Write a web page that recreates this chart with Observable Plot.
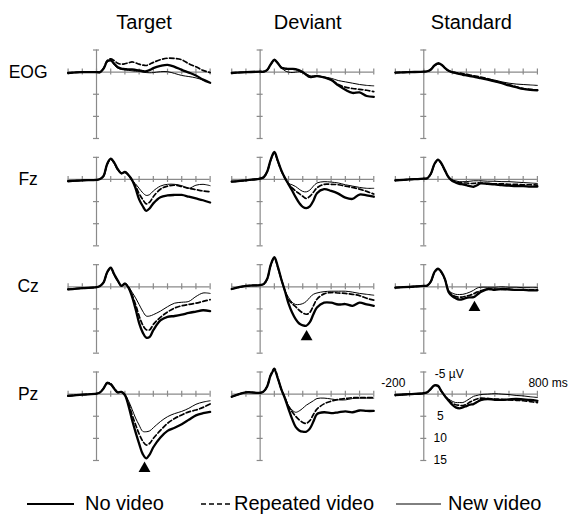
<!DOCTYPE html>
<html><head><meta charset="utf-8">
<script src="https://cdn.jsdelivr.net/npm/d3@7"></script>
<script src="https://cdn.jsdelivr.net/npm/@observablehq/plot@0.6"></script>
<style>
body{margin:0;background:#fff;font-family:"Liberation Sans",Arial,sans-serif;}
#legend{position:relative;width:568px;height:46px;font-size:20px;color:#000;}
#legend .item{position:absolute;top:14px;display:flex;align-items:center;white-space:nowrap;}
#legend svg{display:block;}
</style></head><body>
<div id="chart"></div>
<div id="legend"></div>
<script>
const conditions = ["Target", "Deviant", "Standard"];
const electrodes = ["EOG", "Fz", "Cz", "Pz"];
const seriesNames = ["No video", "Repeated video", "New video"];
const times = [-200,-100,0,25,50,75,100,125,150,175,200,225,250,275,300,325,350,375,400,450,500,550,600,650,700,750,800];
const xTicks = [-200,-100,0,100,200,300,400,500,600,700,800];
const yTicks = [-5,5,10,15];

// amplitudes in µV (negative up)
const eogTargetNo  = [0.2,0,0,0,-0.8,-2.4,-2.7,-1.9,-1.1,-0.8,-0.7,-0.6,-0.6,-0.5,-0.4,-0.25,-0.2,-0.5,-0.9,-1.4,-1.65,-1.2,-0.5,0.1,0.75,1.7,2.4];
const eogTargetRep = [0.2,0,0,0,-0.9,-2.6,-3.0,-2.6,-2.0,-1.8,-1.9,-2.1,-2.3,-2.1,-1.8,-1.6,-1.5,-1.8,-2.2,-2.8,-3.15,-3.1,-2.8,-1.9,-1.2,-0.4,0.1];
const eogTargetNew = [0.2,0,0,0,-0.8,-2.3,-2.5,-1.6,-0.9,-0.6,-0.5,-0.4,-0.3,-0.2,-0.2,0,0.1,0.15,0.1,-0.1,-0.1,0.3,0.75,1.0,1.3,1.8,2.4];
const eogDeviantNo  = [0.2,0,-0.1,-0.1,-0.5,-1.8,-2.8,-2.0,-1.0,-0.8,-0.75,-0.75,-0.7,-0.4,0,0.6,1.1,1.0,0.9,1.2,1.8,3.0,4.0,4.7,4.6,5.4,5.6];
const eogDeviantRep = [0.2,0,-0.1,-0.1,-0.5,-1.7,-2.7,-2.0,-1.0,-0.8,-0.75,-0.7,-0.6,-0.3,0.1,0.6,1.0,1.0,0.9,1.2,1.7,2.8,3.4,3.7,3.9,4.1,4.4];
const eogDeviantNew = [0.2,0,-0.1,-0.1,-0.5,-1.7,-2.7,-1.9,-1.0,-0.3,0,0.1,0,-0.1,0,0.4,0.8,0.9,0.8,1.1,1.4,1.9,2.2,2.5,2.8,3.0,3.1];
const eogStandardNo  = [0.1,0,-0.1,-0.2,-0.6,-1.5,-2.0,-1.7,-0.9,-0.3,0,0.2,0.4,0.6,0.75,0.9,1.0,1.2,1.35,1.7,2.1,2.5,3.0,3.4,3.8,4.0,4.1];
const eogStandardRep = [0.1,0,-0.1,-0.2,-0.6,-1.4,-1.9,-1.6,-0.9,-0.3,0,0.1,0.2,0.35,0.5,0.65,0.8,0.95,1.1,1.5,2.0,2.4,2.8,3.3,3.7,3.9,4.1];
const eogStandardNew = [0.1,0,-0.1,-0.2,-0.6,-1.4,-1.9,-1.5,-0.8,-0.2,0.1,0.25,0.4,0.55,0.7,0.85,0.95,1.1,1.2,1.5,1.8,2.2,2.5,2.7,2.8,2.9,3.0];

const fzTargetNo  = [0.4,0.2,0.1,-0.1,-0.8,-3.5,-4.7,-3.8,-2.3,-1.4,-1.7,-1.0,0.1,2.0,4.5,6.0,7.1,6.5,5.4,4.0,3.6,3.5,3.5,3.9,4.3,4.7,5.2];
const fzTargetRep = [0.4,0.2,0.1,-0.1,-0.8,-3.4,-4.6,-3.7,-2.2,-1.4,-1.7,-1.0,0.2,1.5,3.2,4.5,5.5,5.1,3.9,2.2,1.5,1.3,1.6,2.0,2.3,2.6,2.8];
const fzTargetNew = [0.4,0.2,0.1,-0.1,-0.8,-3.3,-4.5,-3.6,-2.1,-1.3,-1.5,-0.9,0.2,1.0,2.0,3.0,3.6,3.4,2.6,1.5,1.1,1.1,1.4,2.0,1.3,1.1,1.4];
const fzDeviantNo  = [0.5,0.2,-0.2,-0.5,-1.8,-4.5,-6.2,-4.2,-2.0,-0.3,1.1,2.5,4.0,5.3,6.2,6.5,6.1,4.8,3.1,2.2,2.6,3.2,4.1,4.4,3.4,3.6,3.9];
const fzDeviantRep = [0.5,0.2,-0.2,-0.5,-1.8,-4.4,-6.0,-4.0,-1.9,-0.3,1.0,1.9,2.6,3.2,3.8,4.3,3.8,2.9,1.9,1.1,1.1,1.2,1.5,1.8,2.2,2.7,3.3];
const fzDeviantNew = [0.5,0.2,-0.2,-0.5,-1.8,-4.4,-6.0,-4.0,-1.9,-0.3,0.9,1.2,1.6,2.2,2.7,2.8,2.4,1.5,0.8,0.5,0.6,0.8,1.2,1.5,1.8,2.0,2.0];
const fzStandardNo  = [0.2,0,-0.2,-0.3,-1.3,-3.5,-4.5,-3.6,-2.0,-0.5,0.3,0.7,1.0,1.1,1.3,1.5,1.65,1.3,0.9,1.0,1.1,1.3,1.4,1.5,1.5,1.6,1.6];
const fzStandardRep = [0.2,0,-0.2,-0.3,-1.3,-3.4,-4.4,-3.5,-1.9,-0.5,0.2,0.5,0.7,0.8,0.8,0.9,0.9,0.8,0.8,0.9,1.0,1.0,1.1,1.1,1.2,1.2,1.3];
const fzStandardNew = [0.2,0,-0.2,-0.3,-1.3,-3.4,-4.3,-3.4,-1.8,-0.5,0.1,0.3,0.5,0.5,0.5,0.4,0.3,0.3,0.3,0.4,0.4,0.5,0.5,0.6,0.7,0.8,0.9];

const czTargetNo  = [0.6,0.3,0.1,-0.2,-1.0,-3.3,-4.3,-2.8,-1.4,-0.2,-0.7,0.2,2.2,5.0,8.2,10.3,11.5,11.3,9.8,7.6,6.8,6.6,6.3,5.9,5.6,5.3,5.5];
const czTargetRep = [0.6,0.3,0.1,-0.2,-1.0,-3.2,-4.2,-2.7,-1.3,-0.2,-0.7,0.1,1.8,4.0,6.6,8.6,9.7,9.7,8.5,6.9,5.7,4.8,4.3,4.0,3.7,3.3,2.9];
const czTargetNew = [0.6,0.3,0.1,-0.2,-1.0,-3.2,-4.2,-2.7,-1.3,-0.2,-0.7,0,1.2,2.5,4.0,5.5,6.6,6.6,6.3,5.5,4.5,3.7,3.5,3.3,2.2,1.4,1.5];
const czDeviantNo  = [0.5,-0.2,-0.4,-0.6,-1.8,-5.0,-6.7,-4.5,-1.6,1.0,3.8,5.8,7.3,8.3,8.7,8.8,8.0,6.2,4.7,3.6,3.6,4.0,3.9,4.3,3.6,4.0,4.3];
const czDeviantRep = [0.5,-0.2,-0.4,-0.6,-1.8,-4.9,-6.5,-4.3,-1.6,0.9,2.9,3.8,4.5,5.3,5.9,6.2,5.8,4.3,2.8,1.6,1.3,1.4,1.5,1.7,2.0,2.6,3.0];
const czDeviantNew = [0.5,-0.2,-0.4,-0.6,-1.8,-4.9,-6.5,-4.3,-1.6,0.9,2.4,3.5,4.0,4.0,3.8,3.3,2.4,1.7,1.4,1.1,1.0,1.0,1.0,1.2,1.5,1.7,1.9];
const czStandardNo  = [0.2,0,-0.2,-0.3,-1.2,-3.3,-4.1,-3.3,-1.6,1.2,2.1,2.6,2.9,2.8,2.5,2.4,2.35,1.8,1.2,0.5,0.7,0.5,0.6,0.7,0.7,0.8,0.8];
const czStandardRep = [0.2,0,-0.2,-0.3,-1.2,-3.2,-4.0,-3.2,-1.6,1.0,1.8,2.2,2.35,2.3,2.1,1.9,1.6,1.2,0.9,0.6,0.5,0.6,0.6,0.7,0.7,0.7,0.7];
const czStandardNew = [0.2,0,-0.2,-0.3,-1.2,-3.2,-4.0,-3.2,-1.6,0.8,1.4,1.7,1.75,1.7,1.5,1.2,0.8,0.3,0.1,0.1,0.1,0,0.1,0.1,0.2,0.2,0.2];

const pzTargetNo  = [0.4,0.1,-0.1,-0.4,-1.3,-2.5,-2.2,-1.2,-0.4,-0.5,0.2,2.6,5.8,8.6,11.2,13.5,14.5,13.6,12.0,9.8,8.3,7.6,6.8,5.8,4.8,4.3,4.0];
const pzTargetRep = [0.4,0.1,-0.1,-0.4,-1.3,-2.6,-2.4,-1.3,-0.4,-0.5,0.2,2.0,4.6,6.9,9.0,10.6,11.5,11.1,10.0,8.2,6.6,5.5,4.7,4.0,3.6,3.0,2.2];
const pzTargetNew = [0.4,0.1,-0.1,-0.4,-1.3,-2.4,-2.1,-1.1,-0.4,-0.5,0.2,1.5,3.4,5.4,7.0,8.4,8.5,8.3,7.6,6.2,5.1,4.4,3.9,3.2,2.3,1.8,1.5];
const pzDeviantNo  = [0.6,-0.4,-0.3,-0.6,-1.8,-4.3,-5.5,-3.5,-1.0,1.0,3.4,5.6,7.4,8.2,8.5,8.5,7.8,6.2,4.5,4.1,4.3,4.1,3.9,4.1,3.7,3.8,3.8];
const pzDeviantRep = [0.6,-0.4,-0.3,-0.6,-1.8,-4.4,-5.8,-3.6,-1.0,0.8,2.8,4.0,5.0,5.8,6.4,6.6,6.0,4.6,3.4,2.2,1.6,1.2,1.0,0.8,0.8,0.8,0.8];
const pzDeviantNew = [0.6,-0.4,-0.3,-0.6,-1.8,-4.2,-5.4,-3.4,-1.0,0.8,2.6,3.6,4.1,3.8,3.2,2.5,2.0,1.5,1.0,0.9,1.1,1.3,1.3,1.0,0.9,0.9,0.9];
const pzStandardNo  = [0.2,0,-0.2,-0.4,-1.2,-2.0,-1.9,-0.6,0.5,1.5,2.4,3.0,3.2,3.0,2.7,2.4,2.25,1.8,1.35,1.1,1.3,1.3,1.2,1.1,1.2,1.3,1.5];
const pzStandardRep = [0.2,0,-0.2,-0.4,-1.2,-1.9,-1.8,-0.6,0.5,1.3,2.0,2.4,2.5,2.6,2.3,1.8,1.4,1.1,0.9,1.0,1.1,1.2,1.3,1.4,1.5,1.7,1.9];
const pzStandardNew = [0.2,0,-0.2,-0.4,-1.2,-1.9,-1.8,-0.6,0.5,1.1,1.6,1.9,1.9,1.9,1.5,1.0,0.5,0.3,0.1,0,-0.1,0,0.1,0.3,0.4,0.6,0.75];

// highlighted effect markers
const markCond = ["Target", "Deviant", "Standard"];
const markElec = ["Pz", "Cz", "Cz"];
const markTime = [338, 327, 357];
const markAmp  = [16.8, 11.3, 4.7];

// Pz / Standard scale labels
const xLabelTimes = [-200, 800];
const xLabelTexts = ["-200", "800 ms"];
const yUnitValue = [-5];
const yUnitText = ["-5 µV"];
const yLabelValues = [5, 10, 15];
const yLabelTexts = ["5", "10", "15"];

const table = {
  EOG: {Target: [eogTargetNo, eogTargetRep, eogTargetNew], Deviant: [eogDeviantNo, eogDeviantRep, eogDeviantNew], Standard: [eogStandardNo, eogStandardRep, eogStandardNew]},
  Fz:  {Target: [fzTargetNo, fzTargetRep, fzTargetNew], Deviant: [fzDeviantNo, fzDeviantRep, fzDeviantNew], Standard: [fzStandardNo, fzStandardRep, fzStandardNew]},
  Cz:  {Target: [czTargetNo, czTargetRep, czTargetNew], Deviant: [czDeviantNo, czDeviantRep, czDeviantNew], Standard: [czStandardNo, czStandardRep, czStandardNew]},
  Pz:  {Target: [pzTargetNo, pzTargetRep, pzTargetNew], Deviant: [pzDeviantNo, pzDeviantRep, pzDeviantNew], Standard: [pzStandardNo, pzStandardRep, pzStandardNew]}
};
const rows = [];
for (const e of electrodes) for (const c of conditions) seriesNames.forEach((s, k) => {
  table[e][c][k].forEach((v, i) => rows.push({elec: e, cond: c, series: s, t: times[i], v}));
});
const marks3 = markCond.map((c, i) => ({cond: c, elec: markElec[i], t: markTime[i], v: markAmp[i]}));

const axisColor = "#8a8a8a";
const onlyStd = {fx: () => "Standard", fy: () => "Pz"};
const styles = [
  {strokeWidth: 2.3},
  {strokeWidth: 1.7, strokeDasharray: "4.5,2.5"},
  {strokeWidth: 1}
];

const chart = Plot.plot({
  width: 568, height: 478,
  marginLeft: 67.6, marginRight: 31.1, marginTop: 49.5, marginBottom: 18,
  style: {fontFamily: "'Liberation Sans', Arial, sans-serif", fontSize: "12px", overflow: "visible", background: "#fff"},
  x: {domain: [-200, 800], axis: null},
  y: {domain: [-5, 15], reverse: true, axis: null},
  fx: {domain: conditions, paddingInner: 0.132, paddingOuter: 0, round: false, axis: null},
  fy: {domain: electrodes, paddingInner: 0.1755, paddingOuter: 0, round: false, axis: null},
  marks: [
    Plot.axisFx({anchor: "top", tickSize: 0, tickPadding: 21, fontSize: 20, label: null, dx: 5}),
    Plot.text(electrodes, {fx: () => conditions[0], fy: d => d, y: () => 0, frameAnchor: "left", dx: -40, text: d => d, textAnchor: "middle", fontSize: 17.5}),
    Plot.ruleY([0], {stroke: axisColor, strokeWidth: 1.2}),
    Plot.ruleX([0], {stroke: axisColor, strokeWidth: 1.2}),
    Plot.ruleX(xTicks, {x: d => d, y1: () => 0, y2: () => 0, insetTop: -3, insetBottom: -3, stroke: axisColor, strokeWidth: 1.2}),
    Plot.ruleY(yTicks, {y: d => d, x1: () => 0, x2: () => 0, insetLeft: -3, insetRight: -3, stroke: axisColor, strokeWidth: 1.2}),
    ...seriesNames.map((s, k) => Plot.line(rows.filter(r => r.series === s), {
      x: "t", y: "v", z: d => d.elec + d.cond, fx: "cond", fy: "elec",
      stroke: "#000", curve: "catmull-rom", ...styles[k]
    })),
    Plot.dot(marks3, {x: "t", y: "v", fx: "cond", fy: "elec", symbol: "triangle", r: 4.4, fill: "#000", stroke: "none"}),
    Plot.text(xLabelTimes.slice(0, 1), {...onlyStd, x: d => d, y: () => 0, text: (d, i) => xLabelTexts[0], textAnchor: "middle", dx: -2, dy: -10.5, fontSize: 12}),
    Plot.text(xLabelTimes.slice(1), {...onlyStd, x: d => d, y: () => 0, text: (d, i) => xLabelTexts[1], textAnchor: "start", dx: -9, dy: -10.5, fontSize: 12}),
    Plot.text(yUnitValue, {...onlyStd, x: () => 0, y: d => d, text: (d, i) => yUnitText[i], textAnchor: "start", dx: 11, dy: 2, fontSize: 12}),
    Plot.text(yLabelValues, {...onlyStd, x: () => 0, y: d => d, text: (d, i) => yLabelTexts[i], textAnchor: "middle", dx: 16.5, fontSize: 12})
  ]
});
document.getElementById("chart").appendChild(chart);

// legend
const legend = document.getElementById("legend");
const legendPos = [{line: 27, text: 85}, {line: 201, text: 234}, {line: 396, text: 448}];
const legendLen = [47, 29, 45];
seriesNames.forEach((s, k) => {
  const item = document.createElement("div");
  item.className = "item";
  item.style.left = legendPos[k].line + "px";
  const gap = legendPos[k].text - legendPos[k].line - legendLen[k];
  const st = styles[k];
  const sw = k === 0 ? 1.8 : (k === 1 ? 1.5 : 1);
  item.innerHTML = `<svg width="${legendLen[k]}" height="10" style="margin-right:${gap}px"><line x1="0" x2="${legendLen[k]}" y1="5" y2="5" stroke="#000" stroke-width="${sw}" ${st.strokeDasharray ? `stroke-dasharray="5,3"` : ""}/></svg><span>${s}</span>`;
  legend.appendChild(item);
});
</script>
</body></html>
